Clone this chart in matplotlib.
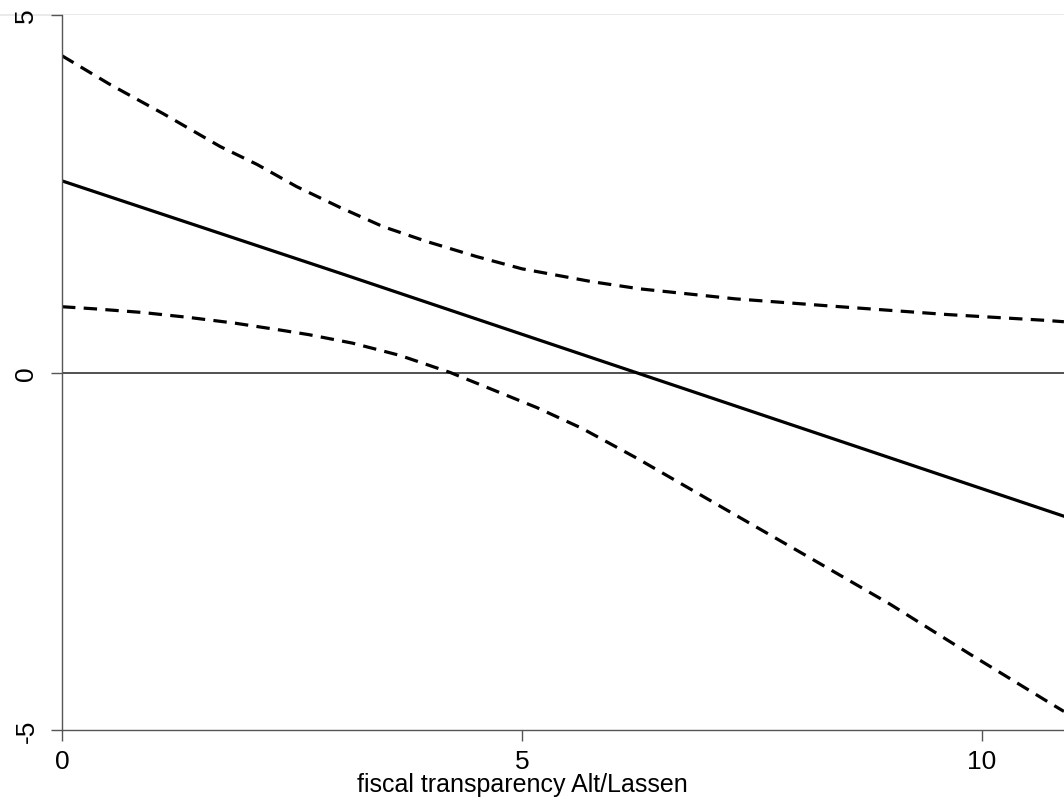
import numpy as np
import matplotlib
matplotlib.use('Agg')
import matplotlib.pyplot as plt
import matplotlib.lines as l

plt.rcParams['font.family'] = ['Liberation Sans', 'DejaVu Sans']
plt.rcParams['axes.unicode_minus'] = False

# marginal effect (solid)
x_effect = [0.0, 3.02, 10.89]
effect = [2.68, 1.39, -2.01]

# upper confidence bound
x_upper = [0.0, 0.52, 1.1, 1.72, 2.12, 2.55, 3.02, 3.49, 3.97, 4.51,
           5.0, 5.76, 6.28, 7.32, 8.35, 9.63, 10.68, 10.89]
upper = [4.43, 4.03, 3.62, 3.16, 2.91, 2.60, 2.31, 2.04, 1.83, 1.62,
         1.45, 1.27, 1.17, 1.03, 0.93, 0.81, 0.73, 0.71]

# lower confidence bound
x_lower = [0.0, 0.36, 0.87, 1.38, 1.88, 2.39, 2.68, 3.16, 3.67, 4.22,
           4.68, 5.16, 5.65, 6.25, 7.18, 8.10, 9.0, 9.87, 10.76, 10.89]
lower = [0.92, 0.89, 0.84, 0.77, 0.69, 0.59, 0.53, 0.41, 0.24, 0.0,
         -0.24, -0.49, -0.78, -1.20, -1.89, -2.57, -3.24, -3.94, -4.64, -4.74]

xticks = [0, 5, 10]
yticks = [-5, 0, 5]
xlabel = 'fiscal transparency Alt/Lassen'

fig = plt.figure(figsize=(10.64, 8.12), dpi=100, facecolor='white')
ax = fig.add_axes([62/1064, 81/812, 1002/1064, 715/812])

ax.plot(x_upper, upper, color='k', lw=2.3, dashes=(4.2, 2.6), dash_capstyle='butt')
ax.plot(x_lower, lower, color='k', lw=2.3, dashes=(4.2, 2.6), dash_capstyle='butt')
ax.plot(x_effect, effect, color='k', lw=2.3)
ax.axhline(0, color='#333333', lw=1.2, zorder=1)

ax.set_xlim(0, 10.891)
ax.set_ylim(-5, 5)

for s in ['top', 'right']:
    ax.spines[s].set_visible(False)
for s in ['left', 'bottom']:
    ax.spines[s].set_color('#555555')
    ax.spines[s].set_linewidth(1.0)

ax.set_xticks(xticks)
ax.set_yticks(yticks)
ax.tick_params(axis='both', direction='out', length=8, width=1.0, color='#555555',
               labelsize=19)
ax.tick_params(axis='x', pad=6)
ax.tick_params(axis='y', pad=9)
for lab in ax.get_yticklabels():
    lab.set_rotation(90)
    lab.set_va('center')

ax.set_xlabel(xlabel, fontsize=18, labelpad=0)
ax.xaxis.label.set_va('baseline')
ax.xaxis.set_label_coords(5 / 10.891, -0.086)

# light border line at the top of the plot region
fig.add_artist(l.Line2D([0, 1], [796/812, 796/812], transform=fig.transFigure,
                        color='#e6e6e6', lw=1.2, zorder=0))

plt.savefig('out.png', dpi=100, facecolor='white')
